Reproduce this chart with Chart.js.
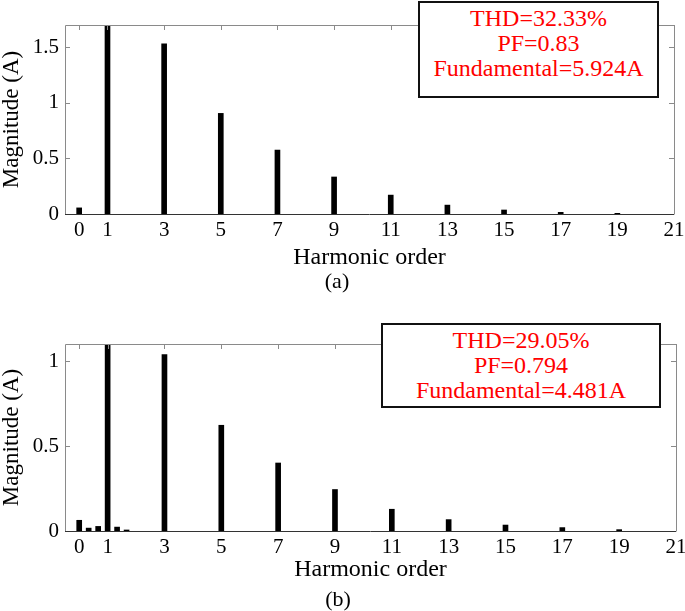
<!DOCTYPE html>
<html>
<head>
<meta charset="utf-8">
<script src="https://cdn.jsdelivr.net/npm/chart.js@4.4.1/dist/chart.umd.min.js"></script>
<style>
  html, body { margin: 0; padding: 0; background: #fff; }
  #wrap { position: relative; width: 685px; height: 611px; overflow: hidden; }
  .cv { position: absolute; left: 0; }
  .box { position: absolute; background: #fff; border: 2px solid #111; box-sizing: border-box;
         color: #ff0000; font-family: "Liberation Serif", "Times New Roman", Tinos, serif; font-size: 24px;
         text-align: center; }
  .box div { height: 25px; line-height: 25px; white-space: nowrap; }
</style>
</head>
<body>
<div id="wrap">
  <div class="cv" style="top:0;width:685px;height:305px;"><canvas id="c1" width="685" height="305"></canvas></div>
  <div class="cv" style="top:305px;width:685px;height:306px;"><canvas id="c2" width="685" height="306"></canvas></div>
  <div class="box" id="box1" style="left:418px;top:1px;width:241px;height:97px;padding-top:3px;"></div>
  <div class="box" id="box2" style="left:381px;top:323px;width:280px;height:85px;padding-top:3px;"></div>
</div>
<script>
// ---- data ----
const xTickLabels = [0, 1, 3, 5, 7, 9, 11, 13, 15, 17, 19, 21];
const yTicksA = [0, 0.5, 1, 1.5];
const yTicksB = [0, 0.5, 1];

// (a) harmonic spectrum
const ordersA = [0, 1, 3, 5, 7, 9, 11, 13, 15, 17, 19];
const magnitudesA = [0.055, 5.924, 1.53, 0.905, 0.575, 0.333, 0.17, 0.08, 0.036, 0.015, 0.006];

// (b) harmonic spectrum (incl. interharmonics near fundamental)
const ordersB = [0, 0.333, 0.667, 1, 1.333, 1.667, 3, 5, 7, 9, 11, 13, 15, 17, 19];
const magnitudesB = [0.063, 0.017, 0.027, 4.481, 0.023, 0.006, 1.038, 0.622, 0.40, 0.244, 0.128, 0.067, 0.035, 0.02, 0.008];

const infoA = ["THD=32.33%", "PF=0.83", "Fundamental=5.924A"];
const infoB = ["THD=29.05%", "PF=0.794", "Fundamental=4.481A"];

// ---- info boxes (real text) ----
function fillBox(id, lines) {
  const el = document.getElementById(id);
  lines.forEach(t => { const d = document.createElement('div'); d.textContent = t; el.appendChild(d); });
}
fillBox('box1', infoA);
fillBox('box2', infoB);

const FONT = "'Liberation Serif', 'Times New Roman', Tinos, serif";

const framePlugin = {
  id: 'frame',
  afterDatasetsDraw(chart) {
    const { ctx, chartArea: a, scales } = chart;
    ctx.save();
    ctx.lineWidth = 1;
    ctx.strokeStyle = '#8a8a8a';
    ctx.beginPath();
    ctx.moveTo(a.left + 0.5, a.bottom + 0.5);
    ctx.lineTo(a.left + 0.5, a.top + 0.5);
    ctx.lineTo(a.right + 0.5, a.top + 0.5);
    ctx.lineTo(a.right + 0.5, a.bottom + 0.5);
    const L = 5;
    scales.x.ticks.forEach(t => {
      const px = Math.round(scales.x.getPixelForValue(t.value)) + 0.5;
      ctx.moveTo(px, a.top); ctx.lineTo(px, a.top + L);
    });
    scales.y.ticks.forEach(t => {
      const py = Math.round(scales.y.getPixelForValue(t.value)) + 0.5;
      ctx.moveTo(a.left, py); ctx.lineTo(a.left + L, py);
      ctx.moveTo(a.right, py); ctx.lineTo(a.right - L, py);
    });
    ctx.stroke();
    ctx.strokeStyle = '#333';
    ctx.beginPath();
    ctx.moveTo(a.left, a.bottom + 0.5);
    ctx.lineTo(a.right, a.bottom + 0.5);
    ctx.stroke();
    ctx.restore();
  }
};

function makeChart(id, orders, mags, yTicks, yMax, pad, xH, xTitlePadB, caption) {
  return new Chart(document.getElementById(id), {
    type: 'bar',
    data: {
      datasets: [{
        data: orders.map((o, i) => ({ x: o, y: mags[i] })),
        backgroundColor: '#000',
        borderWidth: 0,
        barThickness: 5
      }]
    },
    options: {
      responsive: false,
      animation: false,
      layout: { padding: pad },
      plugins: {
        legend: { display: false },
        tooltip: { enabled: false },
        title: {
          display: true, position: 'bottom', text: caption, color: '#000',
          font: { family: FONT, size: 22, weight: 'normal', lineHeight: 1.0 }, padding: { top: 0, bottom: 0 }
        }
      },
      scales: {
        x: {
          type: 'linear', min: -0.5, max: 21, offset: false,
          afterBuildTicks: s => { s.ticks = xTickLabels.map(v => ({ value: v })); },
          afterFit: s => { s.height = xH; s.paddingRight = 0; s.paddingLeft = 0; },
          grid: { display: false, drawTicks: false },
          border: { display: false },
          ticks: { color: '#000', font: { family: FONT, size: 21 }, padding: 4, maxRotation: 0, autoSkip: false,
                   callback: v => String(v) },
          title: { display: true, text: 'Harmonic order', color: '#000',
                   font: { family: FONT, size: 24, lineHeight: 1.0 }, padding: { top: 0, bottom: xTitlePadB } }
        },
        y: {
          min: 0, max: yMax,
          afterBuildTicks: s => { s.ticks = yTicks.map(v => ({ value: v })); },
          afterFit: s => { s.width = 65; s.paddingTop = 0; s.paddingBottom = 0; },
          grid: { display: false, drawTicks: false },
          border: { display: false },
          ticks: { color: '#000', font: { family: FONT, size: 21 }, padding: 6, callback: v => String(v) },
          title: { display: true, text: 'Magnitude (A)', color: '#000',
                   font: { family: FONT, size: 23, lineHeight: 1.0 }, padding: { top: 0, bottom: 0 } }
        }
      }
    },
    plugins: [framePlugin]
  });
}

makeChart('c1', ordersA, magnitudesA, yTicksA, 1.7, { top: 25, right: 11, left: 0, bottom: 12 }, 57, 1.5, '(a)');
makeChart('c2', ordersB, magnitudesB, yTicksB, 1.1, { top: 39, right: 9, left: 0, bottom: 0 }, 58, 7.5, '(b)');
</script>
</body>
</html>
